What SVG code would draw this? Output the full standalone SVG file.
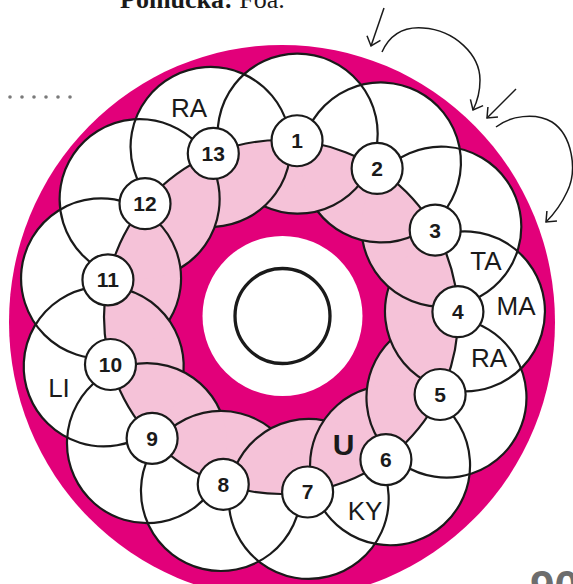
<svg xmlns="http://www.w3.org/2000/svg" xmlns:xlink="http://www.w3.org/1999/xlink" width="573" height="584" viewBox="0 0 573 584">
<style>
.ln{fill:none;stroke:#1a1a1a;stroke-width:2.2}
.node circle{fill:#fff;stroke:#1a1a1a;stroke-width:2.2}
.node text{font-family:"Liberation Sans",Arial,sans-serif;font-weight:bold;font-size:21px;text-anchor:middle;fill:#1a1a1a}
.lbl{font-family:"Liberation Sans",Arial,sans-serif;font-size:26px;text-anchor:middle;fill:#1a1a1a}
.arw{fill:none;stroke:#1a1a1a;stroke-width:1.5;marker-end:url(#ah)}
.dot{fill:#7a7a7a}
</style>
<defs>
<circle id="pc" cx="281" cy="133" r="80"/>
<path id="pa" d="M205.06,158.18 A80,80 0 1 1 254.22,208.35"/>
<clipPath id="ringclip"><circle cx="281" cy="317" r="177"/></clipPath>
<marker id="ah" markerUnits="userSpaceOnUse" markerWidth="12" markerHeight="16" refX="8.4" refY="7.1" orient="auto" overflow="visible"><path d="M0,0 L8.4,7.1 L0,14.2" fill="none" stroke="#1a1a1a" stroke-width="1.5"/></marker>
</defs>
<rect width="573" height="584" fill="#fff"/>
<text x="120" y="8" font-family="'Liberation Serif',serif" font-size="26" fill="#1a1a1a"><tspan font-weight="bold">Pomůcka:</tspan> Foa.</text>
<g id="dots">
<circle class="dot" cx="10" cy="97" r="1.8"/><circle class="dot" cx="22" cy="97" r="1.8"/><circle class="dot" cx="34" cy="97" r="1.8"/><circle class="dot" cx="46" cy="97" r="1.8"/><circle class="dot" cx="58" cy="97" r="1.8"/><circle class="dot" cx="70" cy="97" r="1.8"/>
</g>
<ellipse id="disc" cx="282" cy="322" rx="273" ry="277" fill="#e2007a"/>
<g id="petal-fill" fill="#fff">
<use xlink:href="#pc" transform="rotate(5.2 281 317)"/>
<use xlink:href="#pc" transform="rotate(32.892 281 317)"/>
<use xlink:href="#pc" transform="rotate(60.585 281 317)"/>
<use xlink:href="#pc" transform="rotate(88.277 281 317)"/>
<use xlink:href="#pc" transform="rotate(115.969 281 317)"/>
<use xlink:href="#pc" transform="rotate(143.662 281 317)"/>
<use xlink:href="#pc" transform="rotate(171.354 281 317)"/>
<use xlink:href="#pc" transform="rotate(199.046 281 317)"/>
<use xlink:href="#pc" transform="rotate(226.738 281 317)"/>
<use xlink:href="#pc" transform="rotate(254.431 281 317)"/>
<use xlink:href="#pc" transform="rotate(282.123 281 317)"/>
<use xlink:href="#pc" transform="rotate(309.815 281 317)"/>
<use xlink:href="#pc" transform="rotate(337.508 281 317)"/>
</g>
<g id="pink-fill" fill="#f5c2d8" clip-path="url(#ringclip)">
<use xlink:href="#pc" transform="rotate(5.2 281 317)"/>
<use xlink:href="#pc" transform="rotate(32.892 281 317)"/>
<use xlink:href="#pc" transform="rotate(60.585 281 317)"/>
<use xlink:href="#pc" transform="rotate(88.277 281 317)"/>
<use xlink:href="#pc" transform="rotate(115.969 281 317)"/>
<use xlink:href="#pc" transform="rotate(143.662 281 317)"/>
<use xlink:href="#pc" transform="rotate(171.354 281 317)"/>
<use xlink:href="#pc" transform="rotate(199.046 281 317)"/>
<use xlink:href="#pc" transform="rotate(226.738 281 317)"/>
<use xlink:href="#pc" transform="rotate(254.431 281 317)"/>
<use xlink:href="#pc" transform="rotate(282.123 281 317)"/>
<use xlink:href="#pc" transform="rotate(309.815 281 317)"/>
<use xlink:href="#pc" transform="rotate(337.508 281 317)"/>
</g>
<circle id="hub" cx="282.5" cy="316" r="80" fill="#fff"/>
<circle id="hub-ring" cx="282.5" cy="316" r="47.5" fill="none" stroke="#1a1a1a" stroke-width="3.3"/>
<g id="connectors" class="ln">
<circle cx="281" cy="317" r="177"/>
<use xlink:href="#pa" transform="rotate(5.2 281 317)"/>
<use xlink:href="#pa" transform="rotate(32.892 281 317)"/>
<use xlink:href="#pa" transform="rotate(60.585 281 317)"/>
<use xlink:href="#pa" transform="rotate(88.277 281 317)"/>
<use xlink:href="#pa" transform="rotate(115.969 281 317)"/>
<use xlink:href="#pa" transform="rotate(143.662 281 317)"/>
<use xlink:href="#pa" transform="rotate(171.354 281 317)"/>
<use xlink:href="#pa" transform="rotate(199.046 281 317)"/>
<use xlink:href="#pa" transform="rotate(226.738 281 317)"/>
<use xlink:href="#pa" transform="rotate(254.431 281 317)"/>
<use xlink:href="#pa" transform="rotate(282.123 281 317)"/>
<use xlink:href="#pa" transform="rotate(309.815 281 317)"/>
<use xlink:href="#pa" transform="rotate(337.508 281 317)"/>
</g>
<g id="arrows">
<path class="arw" d="M384,8 L371,46"/>
<path class="arw" d="M382,52 C392,30 410,27 423,28 C455,30 480,55 480,80 C480,92 477,102 473,110"/>
<path class="arw" d="M516,89 L487,118"/>
<path class="arw" d="M496,127 C510,116 535,112 552,122 C572,135 578,170 567,192 C561,205 554,214 546,222"/>
</g>
<g id="node-1" class="node" transform="translate(297.04,140.73)"><circle r="25.5"/><text y="7.5">1</text></g>
<g id="node-2" class="node" transform="translate(377.13,168.38)"><circle r="25.5"/><text y="7.5">2</text></g>
<g id="node-3" class="node" transform="translate(435.17,230.04)"><circle r="25.5"/><text y="7.5">3</text></g>
<g id="node-4" class="node" transform="translate(457.92,311.68)"><circle r="25.5"/><text y="7.5">4</text></g>
<g id="node-5" class="node" transform="translate(440.11,394.52)"><circle r="25.5"/><text y="7.5">5</text></g>
<g id="node-6" class="node" transform="translate(385.90,459.57)"><circle r="25.5"/><text y="7.5">6</text></g>
<g id="node-7" class="node" transform="translate(307.61,491.99)"><circle r="25.5"/><text y="7.5">7</text></g>
<g id="node-8" class="node" transform="translate(223.24,484.31)"><circle r="25.5"/><text y="7.5">8</text></g>
<g id="node-9" class="node" transform="translate(152.13,438.33)"><circle r="25.5"/><text y="7.5">9</text></g>
<g id="node-10" class="node" transform="translate(110.49,364.50)"><circle r="25.5"/><text y="7.5">10</text></g>
<g id="node-11" class="node" transform="translate(107.94,279.83)"><circle r="25.5"/><text y="7.5">11</text></g>
<g id="node-12" class="node" transform="translate(145.01,203.70)"><circle r="25.5"/><text y="7.5">12</text></g>
<g id="node-13" class="node" transform="translate(213.29,153.46)"><circle r="25.5"/><text y="7.5">13</text></g>
<g id="labels">
<text class="lbl" x="189" y="117">RA</text>
<text class="lbl" x="486" y="270">TA</text>
<text class="lbl" x="516" y="315">MA</text>
<text class="lbl" x="489" y="367">RA</text>
<text class="lbl" x="59" y="397">LI</text>
<text class="lbl" x="365" y="520">KY</text>
<text x="343.5" y="455" font-family="'Liberation Sans',Arial,sans-serif" font-weight="bold" font-size="30" text-anchor="middle" fill="#1a1a1a">U</text>
</g>
<text x="530" y="602" font-family="'Liberation Sans',Arial,sans-serif" font-weight="bold" font-size="44" fill="#6d6d6d">90</text>
</svg>
